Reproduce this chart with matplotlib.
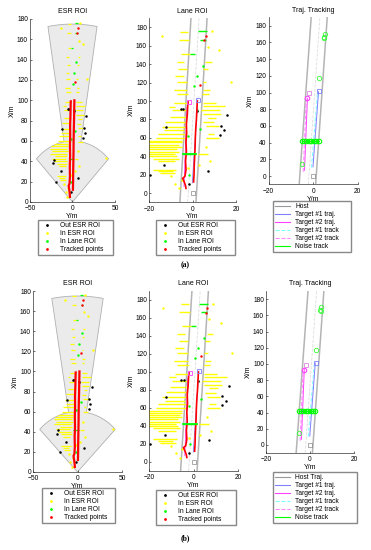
import numpy as np
import matplotlib.pyplot as plt
from matplotlib.lines import Line2D
from matplotlib.patches import Polygon

plt.rcParams['font.family'] = ['Liberation Sans', 'DejaVu Sans']
plt.rcParams['font.size'] = 4.8

W, H = 371, 550

# ESR coverage: (range m, half angle deg)
esr_mid = (60, 45)
esr_long = (175, 9.5)

# yellow returns (In ESR ROI), horizontal runs: (y, x_from, x_to)
yellow_runs = [
    (175.5, -5.7, -2.2), (166.5, -6.3, -1.7), (151.0, -5.3, -1.2),
    (142.5, -7.2, -3.7), (142.5, 5.9, 8.9), (134.5, -6.7, -2.6), (134.5, 5.0, 7.3),
    (127.0, -8.2, -4.1), (121.0, -7.2, -2.6), (121.0, 4.6, 6.4),
    (112.0, -8.7, -2.6), (112.0, 5.0, 8.0), (108.0, -7.2, -2.2), (108.0, 4.5, 7.5),
    (98.0, -8.5, -2.6), (98.0, 4.6, 10.7), (94.0, -11.0, -8.0), (94.5, 4.6, 15.0),
    (90.0, -9.5, -2.6), (90.0, 4.0, 12.5), (86.0, 4.6, 13.0),
    (83.0, -10.5, -3.0), (82.0, 7.0, 11.0), (77.5, -12.5, -3.0), (77.0, 5.0, 10.0),
    (72.0, -14.0, -3.0), (72.5, 6.0, 12.0), (68.0, -13.0, -4.0),
    (64.7, -16.0, -3.0), (64.7, 7.0, 10.0), (60.0, -17.0, -3.0), (59.5, 6.0, 12.0),
    (57.0, -22.0, -5.0), (55.0, -25.0, -5.0), (52.5, -26.0, -6.0), (50.0, -24.0, -5.0),
    (47.5, -26.0, -7.0), (45.0, -20.0, -6.0), (42.5, -24.0, -8.0), (42.0, 2.4, 6.9),
    (40.0, -22.0, -7.0), (37.5, -18.0, -6.0), (35.0, -16.0, -8.0),
    (25.5, -18.0, -7.5), (23.5, -16.0, -9.0), (21.5, -15.0, -8.0),
]
yellow_pts = [(-13.9, 171), (8.8, 175.7), (7.1, 158.7), (12.2, 155), (17.5, 121),
              (40, 43), (-8, 10), (-5, 14), (-10, 18), (3, 30), (-2, 27), (6, 50),
              (8, 35), (-6, 5)]

# black returns (Out ESR ROI)
black_pts = [(-5.5, 91.5), (-4.3, 91.5), (2.2, 89.5), (16, 84.5), (13, 73), (14.5, 68),
             (12.7, 63), (-12.3, 72), (-13, 30), (7, 24), (-22.6, 38), (-22, 41.5),
             (-19.4, 20), (-1.8, 10)]

# green returns (In Lane ROI)
green_runs = [(175.7, 2.4, 6.5), (166.5, 3.4, 6.0), (151.0, -1.2, 1.1), (42.0, -4.5, 1.6)]
green_pts = [(4.6, 138), (2, 127), (-2, 62), (3.4, 70), (2, 90), (-1.5, 20), (0.5, 116)]

# tracked points
red_pts = [(6, 171), (3.4, 118), (5.5, 166)]
trk2_x = [-3.0, -3.2, -3.8, -4.5, -3.5, -3.0, -3.2, -2.8, -3.0, -2.7, -2.8, -2.4, -2.2, -2.0]
trk2_y = [5, 8, 12, 16, 18, 25, 35, 45, 55, 65, 75, 85, 95, 99]
trk1_x = [0.5, 0.7, 0.8, 1.0, 1.2, 1.3, 1.5, 1.8, 2.0, 2.2]
trk1_y = [12, 20, 30, 40, 50, 60, 70, 80, 90, 100]

# lane edges (x at y=-10, x at y=190)
lane_y = [-10, 190]
lane_left = [-5.8, -0.7]
lane_right = [1.6, 6.7]
lane_mid = [-2.2, 3.0]

# trajectories / tracks
t1_traj_x, t1_traj_y = [-0.1, 2.4], [11, 101]
t1_track_x, t1_track_y = [-0.8, 1.9], [10, 99]
t2_traj_x, t2_traj_y = [-3.9, -2.6], [7, 93]
t2_track_x, t2_track_y = [-4.5, -3.2], [5, 90]
t1_end = (2.6, 101.5)
t2_end = (-1.7, 99)
t2_circle = (-2.8, 93)
noise_x = [-5.1, -4.2, -3.2, -2.0, -0.8, 0.4, 1.4, 2.4]
noise_y = 42
noise_other = [(-5.1, 15), (2.7, 117.7), (4.7, 166), (5.1, 170.4), (4.9, 165.5)]

YEL, GRN, RED, BLK = '#ffff00', '#00ff00', '#ff0000', '#000000'
GRAY = '#b4b4b4'
C_T1, C_T2, C_T1K, C_T2K = '#8080ff', '#ff40ff', '#80ffff', '#ff88ff'


def px_axes(fig, x0, x1, ytop, ybot):
    ax = fig.add_axes([x0 / W, 1 - ybot / H, (x1 - x0) / W, (ybot - ytop) / H])
    for s in ['top', 'right']:
        ax.spines[s].set_visible(False)
    for s in ['left', 'bottom']:
        ax.spines[s].set_linewidth(0.5)
        ax.spines[s].set_color('#333333')
    ax.tick_params(direction='in', length=1.5, width=0.4, pad=1.5, labelsize=4.8)
    ax.tick_params(axis='x', pad=2.5)
    return ax


def draw_points(ax, lw=1.0):
    for y, a, b in yellow_runs:
        ax.plot([a, b], [y, y], color=YEL, lw=lw, solid_capstyle='butt')
    ax.plot([p[0] for p in yellow_pts], [p[1] for p in yellow_pts], '.', color=YEL, ms=1.5)
    for y, a, b in green_runs:
        ax.plot([a, b], [y, y], color=GRN, lw=lw, solid_capstyle='butt')
    ax.plot([p[0] for p in green_pts], [p[1] for p in green_pts], '.', color=GRN, ms=1.5)
    ax.plot([p[0] for p in black_pts], [p[1] for p in black_pts], '.', color=BLK, ms=1.6)
    ax.plot([p[0] for p in red_pts], [p[1] for p in red_pts], '.', color=RED, ms=1.5)


def legend_box(ax, handles, labels, x, y, w):
    ax.legend(handles, labels, loc='upper left', bbox_to_anchor=(x / W, 1 - y / H, w / W, 0),
              bbox_transform=ax.figure.transFigure, mode='expand', borderaxespad=0,
              fontsize=4.8, fancybox=False, edgecolor='#888888', framealpha=1,
              handlelength=2.2, handletextpad=0.8, labelspacing=0.15, borderpad=0.3)


def esr_panel(fig, pos, leg):
    ax = px_axes(fig, *pos)
    r1, a1 = esr_mid
    r2, a2 = esr_long
    th1 = np.radians(np.linspace(-a1, -a2, 30))
    th2 = np.radians(np.linspace(-a2, a2, 20))
    th3 = np.radians(np.linspace(a2, a1, 30))
    xs = np.concatenate([[0], r1 * np.sin(th1), r2 * np.sin(th2), r1 * np.sin(th3)])
    ys = np.concatenate([[0], r1 * np.cos(th1), r2 * np.cos(th2), r1 * np.cos(th3)])
    ax.add_patch(Polygon(np.c_[xs, ys], closed=True, fc='#ebebeb', ec='#b0b0b0', lw=0.6))
    draw_points(ax, lw=0.9)
    ax.plot(trk2_x, trk2_y, color=RED, lw=1.6)
    ax.plot(trk1_x, trk1_y, color=RED, lw=1.6)
    ax.set_xlim(-50, 50)
    ax.set_ylim(0, 180)
    ax.set_xticks([-50, 0, 50])
    ax.set_yticks(range(0, 181, 20))
    ax.set_title('ESR ROI', fontsize=5, pad=4)
    ax.set_xlabel('Y/m', fontsize=5, labelpad=0.5)
    ax.set_ylabel('X/m', fontsize=5, labelpad=1)
    handles = [Line2D([], [], marker='.', ls='none', color=c, ms=2) for c in [BLK, YEL, GRN, RED]]
    legend_box(ax, handles, ['Out ESR ROI', 'In ESR ROI', 'In Lane ROI', 'Tracked points'], *leg)
    return ax


def lane_panel(fig, pos, leg):
    ax = px_axes(fig, *pos)
    ax.plot([lane_left[0], lane_left[1]], lane_y, color=GRAY, lw=1.1)
    ax.plot([lane_right[0], lane_right[1]], lane_y, color=GRAY, lw=1.1)
    ax.plot([lane_mid[0], lane_mid[1]], lane_y, color='#dddddd', lw=0.6, ls='--')
    draw_points(ax, lw=1.0)
    ax.plot(t1_traj_x, t1_traj_y, color=C_T1, lw=0.6)
    ax.plot(t2_traj_x, t2_traj_y, color=C_T2, lw=0.6)
    ax.plot(trk2_x, trk2_y, color=RED, lw=1.2)
    ax.plot(trk1_x, trk1_y, color=RED, lw=1.2)
    ax.plot([green_runs[-1][1], green_runs[-1][2]], [green_runs[-1][0]] * 2, color=GRN, lw=1.3)
    ax.plot(*t1_end, 's', mfc='none', mec=C_T1, ms=3, mew=0.6)
    ax.plot(*t2_end, 's', mfc='none', mec=C_T2, ms=3, mew=0.6)
    ax.plot(0, 0, 's', mfc='none', mec='#888888', ms=2.2, mew=0.5)
    ax.set_xlim(-20, 20)
    ax.set_ylim(-10, 190)
    ax.set_xticks([-20, 0, 20])
    ax.set_yticks(range(0, 181, 20))
    ax.set_title('Lane ROI', fontsize=5, pad=4)
    ax.set_xlabel('Y/m', fontsize=5, labelpad=0.5)
    ax.set_ylabel('X/m', fontsize=5, labelpad=1)
    handles = [Line2D([], [], marker='.', ls='none', color=c, ms=2) for c in [BLK, YEL, GRN, RED]]
    legend_box(ax, handles, ['Out ESR ROI', 'In ESR ROI', 'In Lane ROI', 'Tracked points'], *leg)
    return ax


def traj_panel(fig, pos, leg, host_label):
    ax = px_axes(fig, *pos)
    ax.plot([lane_left[0] - 0.5, lane_left[1] - 0.2], lane_y, color=GRAY, lw=1.1)
    ax.plot([lane_right[0] - 0.5, lane_right[1] - 0.4], lane_y, color=GRAY, lw=1.1)
    ax.plot([lane_mid[0], lane_mid[1]], lane_y, color='#dddddd', lw=0.6, ls='--')
    ax.plot(t1_track_x, t1_track_y, color=C_T1K, lw=0.7, ls='--', dashes=(4, 2))
    ax.plot(t2_track_x, t2_track_y, color=C_T2K, lw=0.7, ls='--', dashes=(4, 2))
    ax.plot(t1_traj_x, t1_traj_y, color=C_T1, lw=0.7)
    ax.plot(t2_traj_x, t2_traj_y, color=C_T2, lw=0.7)
    ax.plot(*t1_end, 's', mfc='none', mec=C_T1, ms=3, mew=0.6)
    ax.plot(*t2_end, 's', mfc='none', mec='#dd88dd', ms=3.5, mew=0.6)
    ax.plot(*t2_circle, 'o', mfc='none', mec=C_T2, ms=3.2, mew=0.8)
    ax.plot(noise_x, [noise_y] * len(noise_x), '-o', color=GRN, mfc='none', ms=3.2, mew=0.8, lw=0.8)
    ax.plot([p[0] for p in noise_other], [p[1] for p in noise_other], 'o', mfc='none',
            mec='#33ff33', ms=3.2, mew=0.6)
    ax.plot(0, 0, 's', mfc='none', mec='#888888', ms=2.5, mew=0.5)
    ax.set_xlim(-20, 20)
    ax.set_ylim(-10, 190)
    ax.set_xticks([-20, 0, 20])
    ax.set_yticks(range(0, 181, 20))
    ax.set_title('Traj. Tracking', fontsize=5, pad=4)
    ax.set_xlabel('Y/m', fontsize=5, labelpad=0.5)
    ax.set_ylabel('X/m', fontsize=5, labelpad=1)
    handles = [Line2D([], [], color='#999999', lw=0.8),
               Line2D([], [], color=C_T1, lw=0.8),
               Line2D([], [], color=C_T2, lw=0.8),
               Line2D([], [], color=C_T1K, lw=0.8, ls='--'),
               Line2D([], [], color=C_T2K, lw=0.8, ls='--'),
               Line2D([], [], color=GRN, lw=0.8)]
    labels = [host_label, 'Target #1 traj.', 'Target #2 traj.', 'Target #1 track',
              'Target #2 track', 'Noise track']
    legend_box(ax, handles, labels, *leg)
    return ax


fig = plt.figure(figsize=(W / 100, H / 100), dpi=100)

esr_panel(fig, (30, 115, 19, 202), (38, 220, 75))
lane_panel(fig, (149, 236, 18.3, 202.2), (156, 220, 79))
traj_panel(fig, (268.7, 357.7, 17.4, 184.4), (273, 201, 78), 'Host')

esr_panel(fig, (33, 122, 291, 472), (42, 488, 73))
lane_panel(fig, (149, 238, 291, 471), (156, 490, 80))
traj_panel(fig, (266, 354, 291, 453), (273, 472, 84), 'Host Traj.')

fig.text(185 / W, 1 - 265 / H, '(a)', ha='center', va='center', fontsize=5.5,
         fontweight='bold', family=['Liberation Serif', 'DejaVu Serif'])
fig.text(185 / W, 1 - 538 / H, '(b)', ha='center', va='center', fontsize=5.5,
         fontweight='bold', family=['Liberation Serif', 'DejaVu Serif'])

fig.savefig('out.png', dpi=100)
